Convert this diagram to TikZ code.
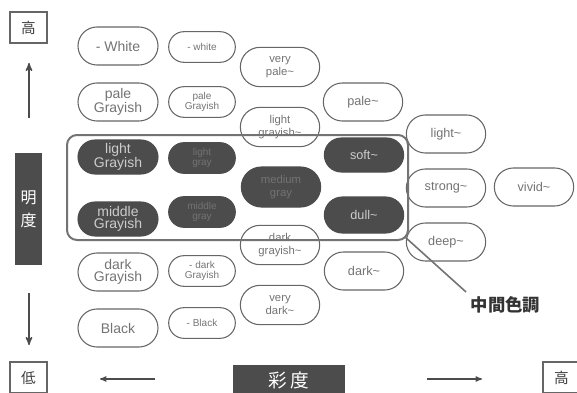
\documentclass[tikz,border=0pt]{standalone}
\usepackage{fontspec}
\setmainfont{Liberation Sans}
\newfontfamily\cjk{Noto Sans CJK JP}
\usetikzlibrary{arrows,positioning,shapes.misc}
\newcommand\swung{\textasciitilde}
\tikzset{
        >=stealth', % small bold arrow heads
        pill/.style={
                rounded rectangle,
                draw=black!60,
                line width=0.8pt,
                text=black!55,
                align=center,
                inner sep=1pt,
        },
        big pill/.style={pill, minimum width=62pt, minimum height=28.5pt, font=\fontsize{10.5}{9}\selectfont},
        small pill/.style={pill, minimum width=52pt, minimum height=23pt, font=\fontsize{7.5}{7.5}\selectfont},
        mid pill/.style={pill, minimum width=61.5pt, minimum height=29.5pt, font=\fontsize{8.5}{9.5}\selectfont},
        tone pill/.style={pill, minimum width=61.5pt, minimum height=28.5pt, font=\fontsize{9.5}{10}\selectfont},
        dark/.style={fill=black!70, draw=black!70, text=white!80!black, minimum height=25.5pt},
        faint/.style={fill=black!70, draw=black!70, text=black!55},
        end box/.style={
                draw=black!60,
                line width=1pt,
                minimum width=27.75pt,
                minimum height=23.25pt,
                text=black!75,
                font=\cjk\fontsize{11}{11}\selectfont,
        },
        axis bar/.style={fill=black!70, text=white, inner sep=0pt},
        axis arrow/.style={->, draw=black!70, line width=1.1pt},
}
\begin{document}
\begin{tikzpicture}[x=0.75pt, y=-0.75pt]
    \useasboundingbox (0,0) rectangle (577,392);

    % lightness axis
    \node [end box] (high) at (28.5,27.5) {高};
    \node [axis bar, minimum width=20.25pt, minimum height=84pt, font=\cjk\fontsize{12}{17}\selectfont, align=center] (lightness) at (28.5,209) {明\\度};
    \node [end box] (low) at (28.5,377.5) {低};
    \coordinate (up tail) at (29,118);
    \coordinate (up head) at (29,63);
    \coordinate (down tail) at (29,293);
    \coordinate (down head) at (29,345);
    \draw [axis arrow] (up tail) -- (up head);
    \draw [axis arrow] (down tail) -- (down head);

    % chroma axis
    \node [axis bar, minimum width=84pt, minimum height=22.5pt, font=\cjk\fontsize{14}{14}\selectfont] (chroma) at (289,380) {彩\,度};
    \node [end box] (high right) at (561.5,377.5) {高};
    \coordinate (left tail) at (155,379);
    \coordinate (left head) at (100,379);
    \coordinate (right tail) at (427,379);
    \coordinate (right head) at (482,379);
    \draw [axis arrow, line width=0.8pt] (left tail) -- (left head);
    \draw [axis arrow, line width=0.8pt] (right tail) -- (right head);

    % achromatic column
    \node [big pill] (white) at (118,46) {- White};
    \node [big pill] (pale grayish) at (118,102) {pale\\Grayish};
    \node [big pill, dark] (light grayish) at (118,157) {light\\Grayish};
    \node [big pill, dark] (middle grayish) at (118,219) {middle\\Grayish};
    \node [big pill] (dark grayish) at (118,272) {dark\\Grayish};
    \node [big pill] (black) at (118,328) {Black};

    % tinted achromatic column
    \node [small pill] (white tint) at (202,47) {- white};
    \node [small pill] (pale tint) at (202,102) {pale\\Grayish};
    \node [small pill, faint] (light tint) at (202,158) {light\\gray};
    \node [small pill, faint] (middle tint) at (202,212) {middle\\gray};
    \node [small pill] (dark tint) at (202,271) {- dark\\Grayish};
    \node [small pill] (black tint) at (202,323) {- Black};

    % grayish tones
    \node [mid pill] (very pale) at (280,67) {very\\pale\swung};
    \node [mid pill] (light grayish tone) at (280,127) {light\\grayish\swung};
    \node [mid pill, faint, minimum height=30pt] (medium gray) at (281,187) {medium\\gray};
    \node [mid pill] (dark grayish tone) at (280,245) {dark\\grayish\swung};
    \node [mid pill] (very dark) at (280,305) {very\\dark\swung};

    % chromatic tones
    \node [tone pill] (pale) at (363,102) {pale\swung};
    \node [tone pill, dark] (soft) at (364,155) {soft\swung};
    \node [tone pill, dark, minimum height=27pt] (dull) at (364,215) {dull\swung};
    \node [tone pill] (dark) at (364,271) {dark\swung};
    \node [tone pill] (light) at (446,134) {light\swung};
    \node [tone pill] (strong) at (446,188) {strong\swung};
    \node [tone pill] (deep) at (446,242) {deep\swung};
    \node [tone pill] (vivid) at (534,187) {vivid\swung};

    % intermediate tones frame
    \draw [draw=black!55, line width=1.5pt, rounded corners=7.5pt] (67,135) rectangle (408,240);
    \coordinate (frame corner) at (405,237);
    \node [anchor=west, text=black!80, font=\cjk\bfseries\fontsize{13}{13}\selectfont] (intermediate) at (466,305) {中間色調};
    \draw [draw=black!55, line width=1.2pt] (frame corner) -- (intermediate.north west);
\end{tikzpicture}
\end{document}
